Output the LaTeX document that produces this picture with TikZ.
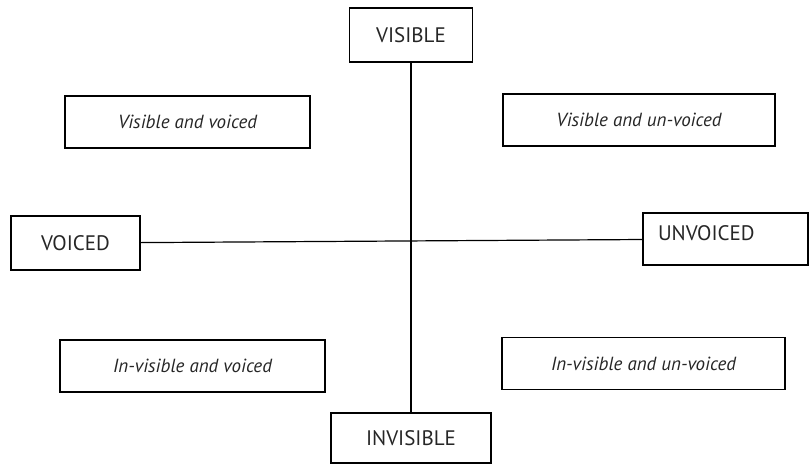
\documentclass[tikz,border=0pt]{standalone}
\usepackage{fontspec}
\setmainfont{PT Sans}
\usepackage{tikz}
\usetikzlibrary{positioning}

\begin{document}
\begin{tikzpicture}
	[
	x=1pt, y=-1pt,
	every node/.style={text=black!85, font=\fontsize{21}{24}\selectfont},
	axisbox/.style = {draw, line width=1.2pt, inner sep=0pt},
	quadbox/.style = {draw, line width=1.2pt, inner sep=0pt, minimum height=52pt, font=\fontsize{19}{22}\selectfont\itshape}
	]
	\useasboundingbox (0,0) rectangle (810,466);
	% axis ends
	\node[axisbox, minimum width=123pt, minimum height=54pt] (vis) at (411,35) {VISIBLE};
	\node[axisbox, minimum width=160pt, minimum height=50pt] (invis) at (411,438) {INVISIBLE};
	\node[axisbox, minimum width=129pt, minimum height=54pt] (voiced) at (75.5,243) {VOICED};
	\node[axisbox, align=left, text width=135pt, inner xsep=15pt, inner ysep=4pt, text height=23pt, text depth=21pt] (unvoiced) at (725.5,239) {UNVOICED};
	% quadrants
	\node[quadbox, minimum width=245pt] (visvoiced) at (187.5,122) {Visible and voiced};
	\node[quadbox, minimum width=272pt] (visunvoiced) at (639,120) {Visible and un-voiced};
	\node[quadbox, minimum width=265pt] (invisvoiced) at (192.5,366) {In-visible and voiced};
	\node[quadbox, minimum width=283pt] (invisunvoiced) at (643.5,363.5) {In-visible and un-voiced};
	% axes
	\draw[line width=1.2pt] (vis) -- (invis);
	\draw[line width=1.2pt] (voiced) -- (unvoiced);
\end{tikzpicture}
\end{document}
